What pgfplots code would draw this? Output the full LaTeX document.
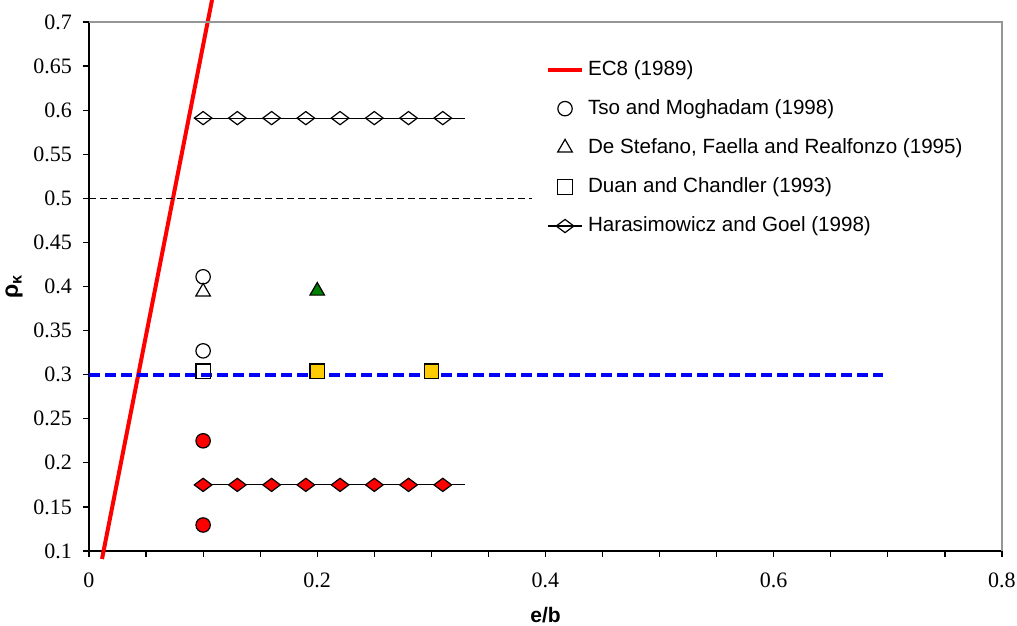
\documentclass[border=0pt]{standalone}
\usepackage{fontspec}
\setmainfont{Liberation Serif}
\newfontfamily\arial{Liberation Sans}
\usepackage{pgfplots}
\pgfplotsset{compat=1.18}
\definecolor{exred}{RGB}{255,0,0}
\definecolor{exblue}{RGB}{0,0,255}
\definecolor{exgreen}{RGB}{0,128,0}
\definecolor{exyellow}{RGB}{255,204,0}
\definecolor{bordergray}{RGB}{150,150,150}
\begin{document}
\begin{tikzpicture}
\begin{axis}[
  scale only axis, width=456.5pt, height=264.5pt,
  at={(0,0)}, anchor=south west,
  xmin=0, xmax=0.8, ymin=0.1, ymax=0.7,
  axis x line*=bottom, axis y line*=left,
  axis line style={-, black, line width=0.7pt},
  xtick={0,0.2,0.4,0.6,0.8}, minor x tick num=3,
  ytick={0.1,0.15,0.2,0.25,0.3,0.35,0.4,0.45,0.5,0.55,0.6,0.65,0.7},
  tick align=outside, major tick length=3pt, minor tick length=3pt,
  tick style={black, line width=0.6pt},
  /pgf/number format/assume math mode=true,
  xticklabel style={font=\fontsize{11}{13}\selectfont, yshift=-4.5pt},
  yticklabel style={font=\fontsize{11}{13}\selectfont, xshift=-2pt, /pgf/number format/fixed, /pgf/number format/precision=2},
  xlabel={\arial\bfseries e/b},
  ylabel={\arial\bfseries ρ\textsubscript{κ}},
  xlabel style={at={(axis description cs:0.5,-0.121)}, anchor=center, font=\fontsize{10.5}{12}\selectfont},
  ylabel style={at={(axis description cs:-0.082,0.5)}, anchor=center, font=\fontsize{11.5}{12}\selectfont},
  clip=false,
  legend cell align=left,
  legend style={draw=none, fill=none, at={(rel axis cs:0.4935,0.943)}, anchor=north west,
    font=\arial\fontsize{10.3}{12}\selectfont, row sep=6.6pt},
]
% EC8 line
\addplot[exred, line width=2pt] coordinates {(0.0114,0.0909) (0.1078,0.725)};
\addlegendentry{EC8 (1989)}
% Tso and Moghadam open
\addplot[only marks, mark=o, mark size=3.6pt, mark options={black, line width=0.6pt}] coordinates {(0.1,0.411) (0.1,0.327)};
\addlegendentry{Tso and Moghadam (1998)}
% De Stefano open triangle
\addplot[only marks, mark=triangle, mark size=4.2pt, mark options={black, line width=0.6pt}] coordinates {(0.1,0.394)};
\addlegendentry{De Stefano, Faella and Realfonzo (1995)}
% Duan open square
\addplot[only marks, mark=square, mark size=3.6pt, mark options={black, line width=0.6pt}] coordinates {(0.1,0.304)};
\addlegendentry{Duan and Chandler (1993)}
% Harasimowicz open diamonds
\addplot[black, line width=0.6pt, mark=diamond, mark size=4.4pt, mark options={rotate=90, fill=white, line width=0.6pt}] coordinates {(0.1,0.591) (0.13,0.591) (0.16,0.591) (0.19,0.591) (0.22,0.591) (0.25,0.591) (0.28,0.591) (0.31,0.591)};
\addlegendentry{Harasimowicz and Goel (1998)}
% Harasimowicz lines (extended)
\addplot[forget plot, black, line width=0.6pt] coordinates {(0.092,0.591) (0.3295,0.591)};
% black dashed at 0.5
\addplot[forget plot, black, line width=0.75pt, dash pattern=on 3.5pt off 2pt] coordinates {(0,0.5) (0.388,0.5)};
% blue dashed at 0.3
\addplot[forget plot, exblue, line width=2pt, dash pattern=on 5.5pt off 2.5pt] coordinates {(0,0.3) (0.696,0.3)};
% filled red diamonds line
\addplot[forget plot, black, line width=0.6pt] coordinates {(0.092,0.175) (0.3295,0.175)};
\addplot[forget plot, only marks, mark=diamond*, mark size=4.4pt, mark options={rotate=90, draw=black, fill=exred, line width=0.6pt}] coordinates {(0.1,0.175) (0.13,0.175) (0.16,0.175) (0.19,0.175) (0.22,0.175) (0.25,0.175) (0.28,0.175) (0.31,0.175)};
% filled red circles
\addplot[forget plot, only marks, mark=*, mark size=3.6pt, mark options={draw=black, fill=exred, line width=0.6pt}] coordinates {(0.1,0.225) (0.1,0.1295)};
% green triangle
\addplot[forget plot, only marks, mark=triangle*, mark size=4.2pt, mark options={draw=black, fill=exgreen, line width=0.6pt}] coordinates {(0.2,0.395)};
% yellow squares
\addplot[forget plot, only marks, mark=square*, mark size=3.6pt, mark options={draw=black, fill=exyellow, line width=0.6pt}] coordinates {(0.2,0.304) (0.3,0.304)};
% plot area border (top/right)
\draw[bordergray, line width=0.8pt] (rel axis cs:0,1) -- (rel axis cs:1,1) -- (rel axis cs:1,0);
\end{axis}
\pgfresetboundingbox
\useasboundingbox (-44.5pt,-37.5pt) rectangle (464pt,275.5pt);
\end{tikzpicture}
\end{document}
